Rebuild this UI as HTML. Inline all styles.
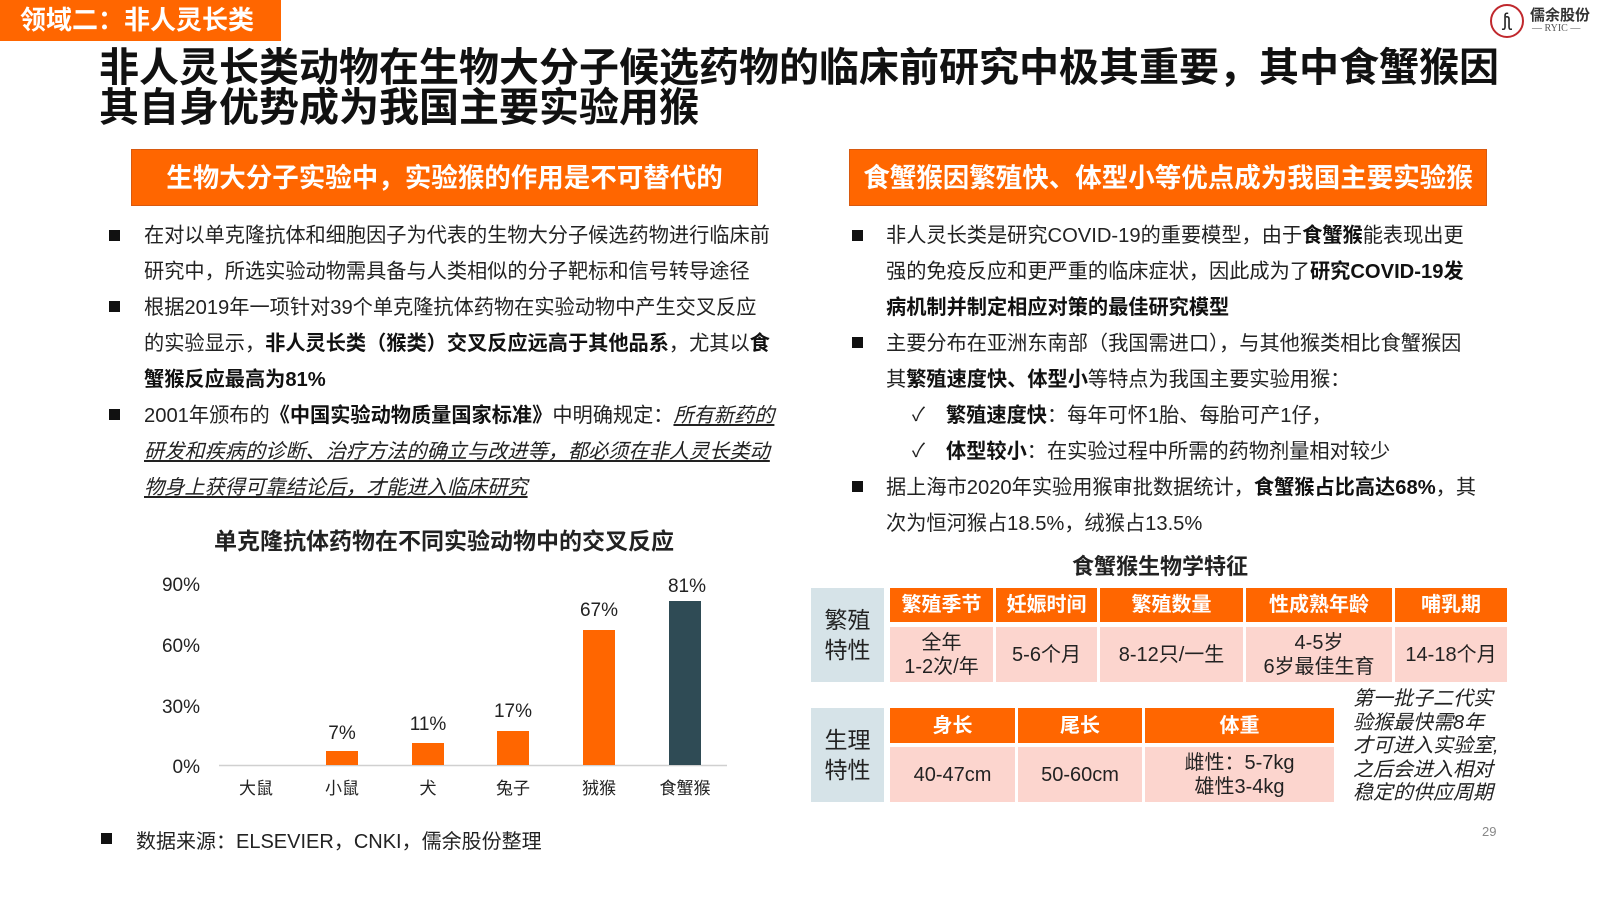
<!DOCTYPE html>
<html><head><meta charset="utf-8"><style>
body{margin:0;width:1600px;height:900px;background:#fff;position:relative;overflow:hidden;font-family:"Liberation Sans","Noto Sans CJK SC",sans-serif;color:#222}
.a{position:absolute;white-space:nowrap}
.tag{left:0;top:0;width:281px;height:41px;background:#FF6600;color:#fff;font-size:26px;font-weight:bold;line-height:41px;padding-left:20px;box-sizing:border-box}
.title{left:99px;top:48px;font-size:40px;font-weight:bold;line-height:40px;color:#111}
.box{top:149px;height:57px;background:#FF6600;color:#fff;font-size:26.5px;font-weight:bold;line-height:57px;text-align:center;border:1px solid #d85a10;box-sizing:border-box}
.txt{font-size:20.2px;line-height:36px;color:#222}
.sq{width:11px;height:11px;background:#111}
b{font-weight:bold;color:#111}
u{font-style:italic}
.cell{position:absolute;display:flex;align-items:center;justify-content:center;text-align:center;font-size:20px;line-height:24px}
.h{background:#FF6600;color:#fff;font-weight:bold}
.d{background:#FCD5CE;color:#222}
.l{background:#D6E3E8;color:#222;font-size:23px;line-height:30px}
</style></head><body>
<div class="a tag">领域二：非人灵长类</div>
<div class="a title">非人灵长类动物在生物大分子候选药物的临床前研究中极其重要，其中食蟹猴因<br>其自身优势成为我国主要实验用猴</div>
<div class="a" style="left:1490px;top:4px;width:34px;height:34px;border:2px solid #c0282d;border-radius:50%;box-sizing:border-box;font-size:18px;text-align:center;line-height:28px;color:#222">ʃʅ</div>
<div class="a" style="left:1530px;top:4px;font-size:15px;font-weight:bold;color:#333">儒余股份</div>
<div class="a" style="left:1532px;top:23px;font-size:10px;color:#555;font-family:'Liberation Serif',serif">— RYIC —</div>

<div class="a box" style="left:131px;width:627px">生物大分子实验中，实验猴的作用是不可替代的</div>
<div class="a box" style="left:849px;width:638px">食蟹猴因繁殖快、体型小等优点成为我国主要实验猴</div>

<div class="a sq" style="left:109px;top:230px"></div>
<div class="a sq" style="left:109px;top:301px"></div>
<div class="a sq" style="left:109px;top:409px"></div>
<div class="a txt" style="left:144px;top:218px">在对以单克隆抗体和细胞因子为代表的生物大分子候选药物进行临床前<br>研究中，所选实验动物需具备与人类相似的分子靶标和信号转导途径<br>根据2019年一项针对39个单克隆抗体药物在实验动物中产生交叉反应<br>的实验显示，<b>非人灵长类（猴类）交叉反应远高于其他品系</b>，尤其以<b>食</b><br><b>蟹猴反应最高为81%</b><br>2001年颁布的<b>《中国实验动物质量国家标准》</b>中明确规定：<u>所有新药的</u><br><u>研发和疾病的诊断、治疗方法的确立与改进等，都必须在非人灵长类动</u><br><u>物身上获得可靠结论后，才能进入临床研究</u></div>

<div class="a" style="left:444px;top:522px;transform:translateX(-50%);font-size:23px;font-weight:bold;color:#222">单克隆抗体药物在不同实验动物中的交叉反应</div>
<svg class="a" style="left:0;top:0" width="800" height="900">
<g font-family="Liberation Sans,Noto Sans CJK SC,sans-serif" font-size="19" fill="#222">
<text x="200" y="591" text-anchor="end">90%</text>
<text x="200" y="652" text-anchor="end">60%</text>
<text x="200" y="713" text-anchor="end">30%</text>
<text x="200" y="773" text-anchor="end">0%</text>
<line x1="219" y1="765.5" x2="727" y2="765.5" stroke="#d0d0d0" stroke-width="1.5"/>
<rect x="326" y="751" width="32" height="14" fill="#FF6600"/>
<rect x="412" y="743" width="32" height="22" fill="#FF6600"/>
<rect x="497" y="731" width="32" height="34" fill="#FF6600"/>
<rect x="583" y="630" width="32" height="135" fill="#FF6600"/>
<rect x="669" y="601" width="32" height="164" fill="#2F4B55"/>
<text x="342" y="739" text-anchor="middle">7%</text>
<text x="428" y="730" text-anchor="middle">11%</text>
<text x="513" y="717" text-anchor="middle">17%</text>
<text x="599" y="616" text-anchor="middle">67%</text>
<text x="687" y="592" text-anchor="middle">81%</text>
<g font-size="17">
<text x="256" y="794" text-anchor="middle">大鼠</text>
<text x="342" y="794" text-anchor="middle">小鼠</text>
<text x="428" y="794" text-anchor="middle">犬</text>
<text x="513" y="794" text-anchor="middle">兔子</text>
<text x="599" y="794" text-anchor="middle">狨猴</text>
<text x="685" y="794" text-anchor="middle">食蟹猴</text>
</g></g></svg>
<div class="a sq" style="left:101px;top:833px"></div>
<div class="a" style="left:136px;top:825px;font-size:20px">数据来源：ELSEVIER，CNKI，儒余股份整理</div>

<div class="a sq" style="left:852px;top:230px"></div>
<div class="a sq" style="left:852px;top:337px"></div>
<div class="a sq" style="left:852px;top:481px"></div>
<div class="a txt" style="left:886px;top:218px">非人灵长类是研究COVID-19的重要模型，由于<b>食蟹猴</b>能表现出更<br>强的免疫反应和更严重的临床症状，因此成为了<b>研究COVID-19发</b><br><b>病机制并制定相应对策的最佳研究模型</b><br>主要分布在亚洲东南部（我国需进口），与其他猴类相比食蟹猴因<br>其<b>繁殖速度快、体型小</b>等特点为我国主要实验用猴：<br><span style="margin-left:60px"><b>繁殖速度快</b>：每年可怀1胎、每胎可产1仔，</span><br><span style="margin-left:60px"><b>体型较小</b>：在实验过程中所需的药物剂量相对较少</span><br>据上海市2020年实验用猴审批数据统计，<b>食蟹猴占比高达68%</b>，其<br>次为恒河猴占18.5%，绒猴占13.5%</div>
<div class="a" style="left:912px;top:400px;font-size:19px">✓</div>
<div class="a" style="left:912px;top:436px;font-size:19px">✓</div>

<div class="a" style="left:1160px;top:549px;transform:translateX(-50%);font-size:22px;font-weight:bold;color:#222">食蟹猴生物学特征</div>
<div class="cell l" style="left:811px;top:588px;width:73px;height:94px">繁殖<br>特性</div>
<div class="cell h" style="left:890px;top:588px;width:103px;height:34px">繁殖季节</div>
<div class="cell h" style="left:996px;top:588px;width:101px;height:34px">妊娠时间</div>
<div class="cell h" style="left:1100px;top:588px;width:143px;height:34px">繁殖数量</div>
<div class="cell h" style="left:1246px;top:588px;width:146px;height:34px">性成熟年龄</div>
<div class="cell h" style="left:1395px;top:588px;width:112px;height:34px">哺乳期</div>
<div class="cell d" style="left:890px;top:627px;width:103px;height:55px">全年<br>1-2次/年</div>
<div class="cell d" style="left:996px;top:627px;width:101px;height:55px">5-6个月</div>
<div class="cell d" style="left:1100px;top:627px;width:143px;height:55px">8-12只/一生</div>
<div class="cell d" style="left:1246px;top:627px;width:146px;height:55px">4-5岁<br>6岁最佳生育</div>
<div class="cell d" style="left:1395px;top:627px;width:112px;height:55px">14-18个月</div>

<div class="cell l" style="left:811px;top:708px;width:73px;height:94px">生理<br>特性</div>
<div class="cell h" style="left:890px;top:708px;width:125px;height:35px">身长</div>
<div class="cell h" style="left:1018px;top:708px;width:124px;height:35px">尾长</div>
<div class="cell h" style="left:1145px;top:708px;width:189px;height:35px">体重</div>
<div class="cell d" style="left:890px;top:747px;width:125px;height:55px">40-47cm</div>
<div class="cell d" style="left:1018px;top:747px;width:124px;height:55px">50-60cm</div>
<div class="cell d" style="left:1145px;top:747px;width:189px;height:55px">雌性：5-7kg<br>雄性3-4kg</div>
<div class="a" style="left:1353px;top:688px;font-size:20px;line-height:23.5px;font-style:italic;color:#222">第一批子二代实<br>验猴最快需8年<br>才可进入实验室,<br>之后会进入相对<br>稳定的供应周期</div>
<div class="a" style="left:1482px;top:824px;font-size:13px;color:#888">29</div>
</body></html>
